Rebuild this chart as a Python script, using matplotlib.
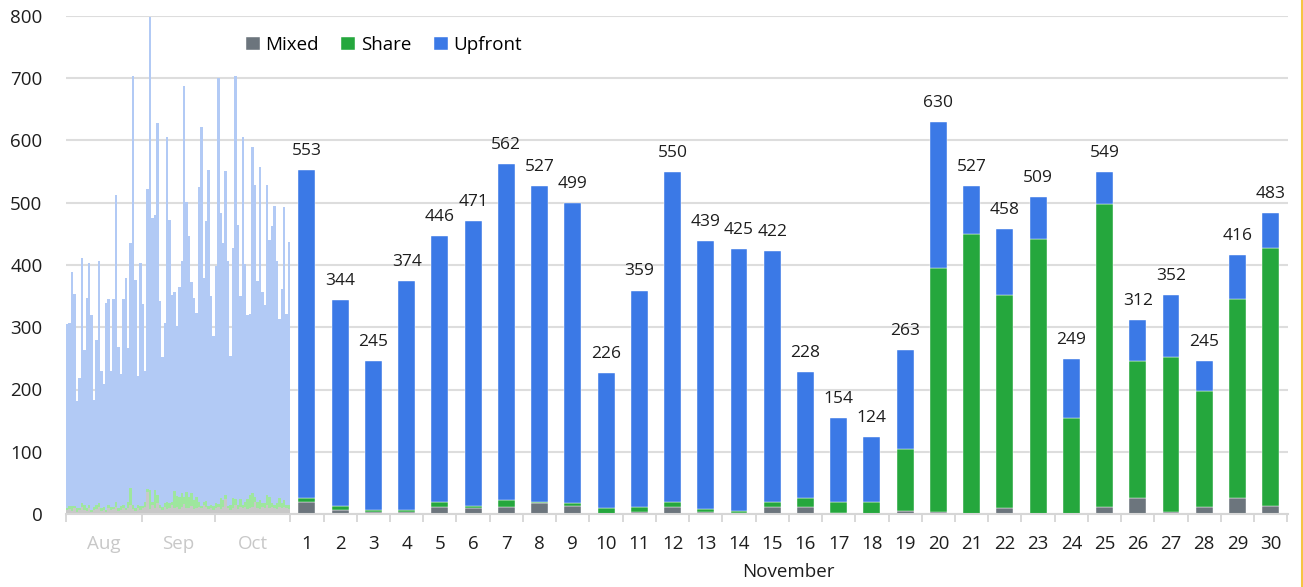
import numpy as np
import matplotlib.pyplot as plt
from matplotlib.lines import Line2D

plt.rcParams['font.family'] = ['Open Sans', 'DejaVu Sans']

# daily totals for Aug-Oct (background history)
hist_total = [305, 307, 389, 353, 182, 218, 412, 263, 347, 403, 320, 183, 280, 407, 229, 209,
              339, 346, 229, 345, 512, 268, 225, 345, 379, 266, 435, 703, 376, 222, 403,
              338, 229, 522, 798, 475, 480, 628, 342, 253, 307, 605, 473, 352, 357, 302,
              364, 407, 688, 502, 446, 373, 347, 323, 525, 622, 379, 470, 553, 351, 286,
              398, 700, 484, 435, 551, 406, 254, 428, 703, 464, 351, 605, 402, 319, 321,
              590, 528, 375, 558, 357, 336, 528, 440, 463, 494, 406, 314, 362, 493, 322, 437]
hist_mixed = [6, 8, 5, 10, 4, 6, 12, 7, 5, 9, 4, 6, 8, 11, 5, 7,
              4, 9, 6, 8, 12, 5, 7, 10, 6, 9, 14, 8, 5, 10, 7,
              9, 12, 36, 8, 14, 10, 18, 9, 7, 12, 8, 10, 14, 9, 11,
              8, 12, 16, 10, 9, 13, 8, 10, 12, 9, 14, 11, 8, 10, 7,
              9, 11, 8, 12, 24, 9, 7, 10, 14, 8, 12, 9, 11, 8, 10,
              12, 20, 9, 8, 11, 10, 14, 9, 12, 10, 8, 11, 9, 12, 10, 8]
hist_share = [4, 5, 8, 3, 6, 4, 5, 8, 4, 6, 3, 5, 7, 6, 4, 5,
              3, 6, 5, 4, 8, 4, 6, 5, 4, 10, 28, 6, 4, 5, 6,
              4, 7, 4, 30, 6, 28, 12, 5, 4, 6, 12, 8, 5, 28, 18,
              20, 22, 12, 26, 18, 20, 14, 18, 8, 4, 6, 10, 5, 4, 6,
              8, 5, 18, 10, 6, 4, 8, 16, 10, 6, 12, 5, 8, 16, 20,
              22, 8, 10, 14, 6, 8, 16, 18, 6, 4, 10, 14, 8, 10, 4, 6]
months = ['Aug', 'Sep', 'Oct']
month_days = [31, 30, 31]

# November, per day
days = list(range(1, 31))
nov_total = [553, 344, 245, 374, 446, 471, 562, 527, 499, 226, 359, 550, 439, 425, 422,
             228, 154, 124, 263, 630, 527, 458, 509, 249, 549, 312, 352, 245, 416, 483]
nov_mixed = [19, 6, 3, 4, 11, 10, 11, 18, 13, 0, 4, 11, 3, 2, 11,
             11, 2, 0, 5, 4, 0, 9, 0, 0, 11, 26, 4, 11, 25, 13]
nov_share = [7, 7, 3, 3, 9, 3, 11, 1, 4, 10, 7, 9, 5, 3, 8,
             14, 17, 19, 100, 391, 449, 343, 441, 154, 487, 220, 248, 186, 320, 414]

c_mixed, c_share, c_up = '#6c757d', '#25a73d', '#3b79e6'
f_mixed, f_share, f_up = '#c8c8c8', '#9ee69e', '#b2caf5'
txt = '#1e1e1e'

fig = plt.figure(figsize=(13.03, 5.87), dpi=100)
ax = fig.add_axes([66 / 1303, 1 - 514 / 587, (1288 - 66) / 1303, 498 / 587])

# history squeezed into the space left of November
left = -6.25
span = 0.5 - left
w = span / len(hist_total)
hx = left + w * (np.arange(len(hist_total)) + 0.5)
hm = np.array(hist_mixed)
hs = np.array(hist_share)
hu = np.array(hist_total) - hm - hs
ax.bar(hx, hm, width=w, color=f_mixed, linewidth=0)
ax.bar(hx, hs, bottom=hm, width=w, color=f_share, linewidth=0)
ax.bar(hx, hu, bottom=hm + hs, width=w, color=f_up, linewidth=0)

# November stacked bars
x = np.array(days)
m = np.array(nov_mixed)
s = np.array(nov_share)
u = np.array(nov_total) - m - s
bw = 0.51
ax.bar(x, m, width=bw, color=c_mixed, label='Mixed', edgecolor='#ffffff', linewidth=0.3)
ax.bar(x, s, bottom=m, width=bw, color=c_share, label='Share', edgecolor='#ffffff', linewidth=0.3)
ax.bar(x, u, bottom=m + s, width=bw, color=c_up, label='Upfront', edgecolor='#ffffff', linewidth=0.3)

for xi, t in zip(x, nov_total):
    ax.annotate(str(t), (xi, t), xytext=(0, 8), textcoords='offset points',
                ha='center', va='bottom', fontsize=12.5, color=txt)

ax.set_xlim(left, 30.52)
ax.set_ylim(0, 800)
ax.set_yticks(range(0, 801, 100))
ax.grid(axis='y', color='#dddddd', linewidth=1.5)
ax.set_axisbelow(True)
for sp in ['top', 'right', 'left']:
    ax.spines[sp].set_visible(False)
ax.spines['bottom'].set_color('#d6d6d6')
ax.spines['bottom'].set_linewidth(1.5)
ax.tick_params(axis='y', length=0, pad=17, labelsize=13.5, labelcolor=txt)

# month ticks on the left, day ticks on the right
bounds = left + w * np.cumsum([0] + month_days)
mid = (bounds[:-1] + bounds[1:]) / 2
ax.set_xticks(list(mid) + days)
ax.set_xticklabels(months + [str(d) for d in days])
ax.set_xticks(list(bounds) + list(np.arange(1.5, 31, 1)), minor=True)
ax.tick_params(axis='x', which='major', length=0, pad=15, labelsize=13.5, labelcolor=txt)
ax.tick_params(axis='x', which='minor', length=6, width=1.3, color='#d6d6d6')
for lbl in ax.get_xticklabels()[:3]:
    lbl.set_color('#c8c8c8')

ax.annotate('November', xy=(15.5, 0), xycoords=('data', 'axes fraction'),
            xytext=(0, -42), textcoords='offset points', ha='center', va='center',
            fontsize=13.5, color=txt)

ax.legend(loc='center', bbox_to_anchor=(384 / 1303, 1 - 45 / 587),
          bbox_transform=fig.transFigure, ncol=3, frameon=False, fontsize=13.5,
          handlelength=0.75, handleheight=0.75, handletextpad=0.3, columnspacing=1.2)

fig.add_artist(Line2D([0.9995, 0.9995], [0, 1], transform=fig.transFigure,
                      color='#f5c542', linewidth=1.5))

fig.savefig('out.png', dpi=100)
